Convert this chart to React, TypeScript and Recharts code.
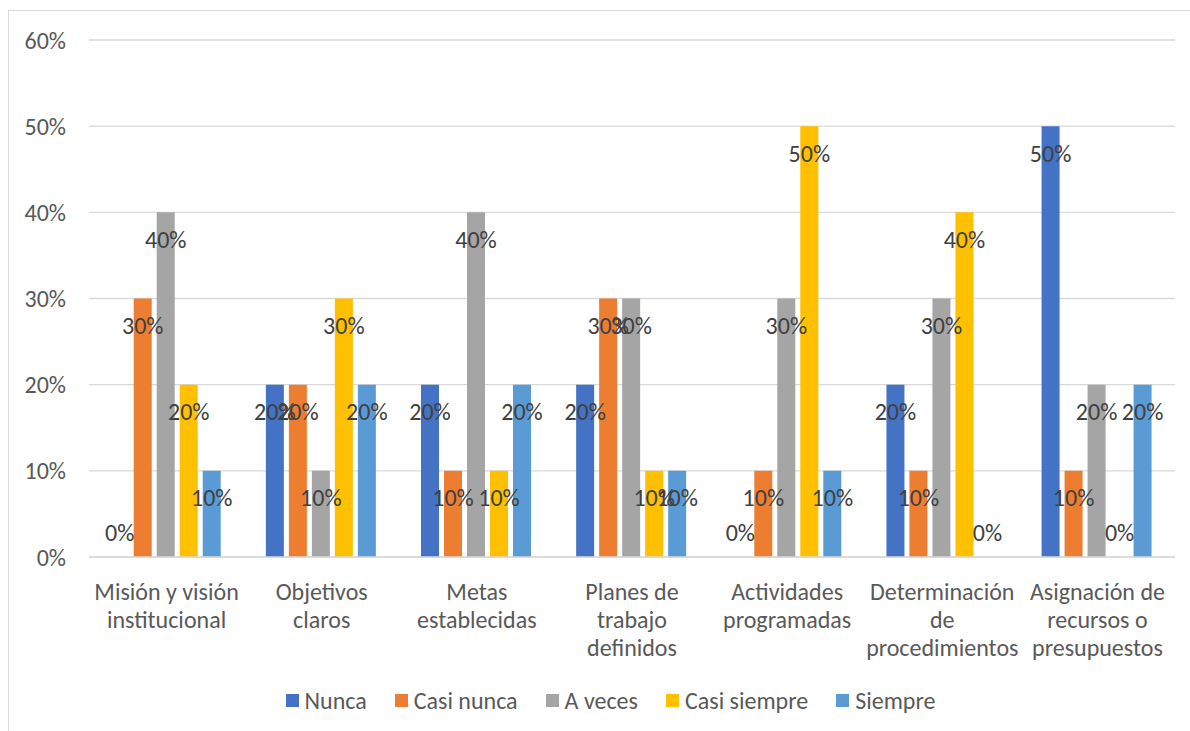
import React from 'react';
import { BarChart, Bar, XAxis, YAxis, CartesianGrid, Legend, LabelList } from 'recharts';

const categories = [
  'Misión y visión institucional',
  'Objetivos claros',
  'Metas establecidas',
  'Planes de trabajo definidos',
  'Actividades programadas',
  'Determinación de procedimientos',
  'Asignación de recursos o presupuestos',
];

// how Excel wrapped the category labels
const categoryLines = [
  ['Misión y visión', 'institucional'],
  ['Objetivos', 'claros'],
  ['Metas', 'establecidas'],
  ['Planes de', 'trabajo', 'definidos'],
  ['Actividades', 'programadas'],
  ['Determinación', 'de', 'procedimientos'],
  ['Asignación de', 'recursos o', 'presupuestos'],
];

const nunca = [0, 20, 20, 20, 0, 20, 50];
const casiNunca = [30, 20, 10, 30, 10, 10, 10];
const aVeces = [40, 10, 40, 30, 30, 30, 20];
const casiSiempre = [20, 30, 10, 10, 50, 40, 0];
const siempre = [10, 20, 20, 10, 10, 0, 20];

const yTicks = [0, 10, 20, 30, 40, 50, 60];

const series = [
  { key: 'Nunca', values: nunca, color: '#4472C4' },
  { key: 'Casi nunca', values: casiNunca, color: '#ED7D31' },
  { key: 'A veces', values: aVeces, color: '#A5A5A5' },
  { key: 'Casi siempre', values: casiSiempre, color: '#FFC000' },
  { key: 'Siempre', values: siempre, color: '#5B9BD5' },
];

const data = categories.map((name, i) => {
  const row: any = { name, idx: i };
  series.forEach(s => { row[s.key] = s.values[i]; });
  return row;
});

const FONT = 'Carlito, Lato, sans-serif';
const FS = 24;

const CategoryTick = (props: any) => {
  const { x, y, payload } = props;
  const lines = categoryLines[payload.index] || [payload.value];
  return (
    <g>
      {lines.map((line, i) => (
        <text key={i} x={x} y={y + 32 + i * 28} textAnchor="middle" dominantBaseline="central"
          fill="#595959" fontSize={FS} fontFamily={FONT}>
          {line}
        </text>
      ))}
    </g>
  );
};

const ValueLabel = (props: any) => {
  const { x, y, width, height, value } = props;
  const cx = x + width / 2;
  const bottom = y + height;
  const ty = value === 0 ? bottom - 25 : y + 27;
  return (
    <text x={cx} y={ty} textAnchor="middle" dominantBaseline="central"
      fill="#404040" fontSize={FS} fontFamily={FONT}>
      {value + '%'}
    </text>
  );
};

const LegendBox = () => (
  <div style={{ display: 'flex', justifyContent: 'center', alignItems: 'center', paddingLeft: 46, fontFamily: FONT, fontSize: FS, color: '#595959' }}>
    {series.map((s, i) => (
      <div key={s.key} style={{ display: 'flex', alignItems: 'center', marginLeft: i === 0 ? 0 : 28 }}>
        <span style={{ display: 'inline-block', width: 13, height: 13, background: s.color, marginRight: 6 }} />
        <span>{s.key}</span>
      </div>
    ))}
  </div>
);

export default function App() {
  return (
    <div style={{ position: 'absolute', left: 0, top: 0, width: 1190, height: 731, background: '#fff' }}>
      <div style={{ position: 'absolute', left: 8, top: 10, width: 1200, height: 740, border: '1px solid #D9D9D9' }} />
      <BarChart
        width={1190}
        height={731}
        data={data}
        margin={{ top: 40, right: 15, left: 0, bottom: 0 }}
        barCategoryGap="14%"
        barGap={5}
        style={{ position: 'absolute', left: 0, top: 0 }}
      >
        <CartesianGrid vertical={false} stroke="#D9D9D9" strokeWidth={1.3} />
        <XAxis
          dataKey="name"
          height={100}
          interval={0}
          tickLine={false}
          tickSize={0}
          axisLine={{ stroke: '#D9D9D9', strokeWidth: 1.3 }}
          tick={<CategoryTick />}
        />
        <YAxis
          width={89}
          domain={[0, 60]}
          ticks={yTicks}
          tickFormatter={(v: number) => v + '%'}
          axisLine={false}
          tickLine={false}
          tickSize={0}
          tickMargin={23}
          tick={{ fill: '#595959', fontSize: FS, fontFamily: FONT }}
        />
        <Legend
          verticalAlign="bottom"
          wrapperStyle={{ height: 74, paddingTop: 29, boxSizing: 'border-box' }}
          content={<LegendBox />}
        />
        {series.map(s => (
          <Bar key={s.key} dataKey={s.key} fill={s.color} isAnimationActive={false} minPointSize={0.01}>
            <LabelList dataKey={s.key} content={<ValueLabel />} />
          </Bar>
        ))}
      </BarChart>
    </div>
  );
}
